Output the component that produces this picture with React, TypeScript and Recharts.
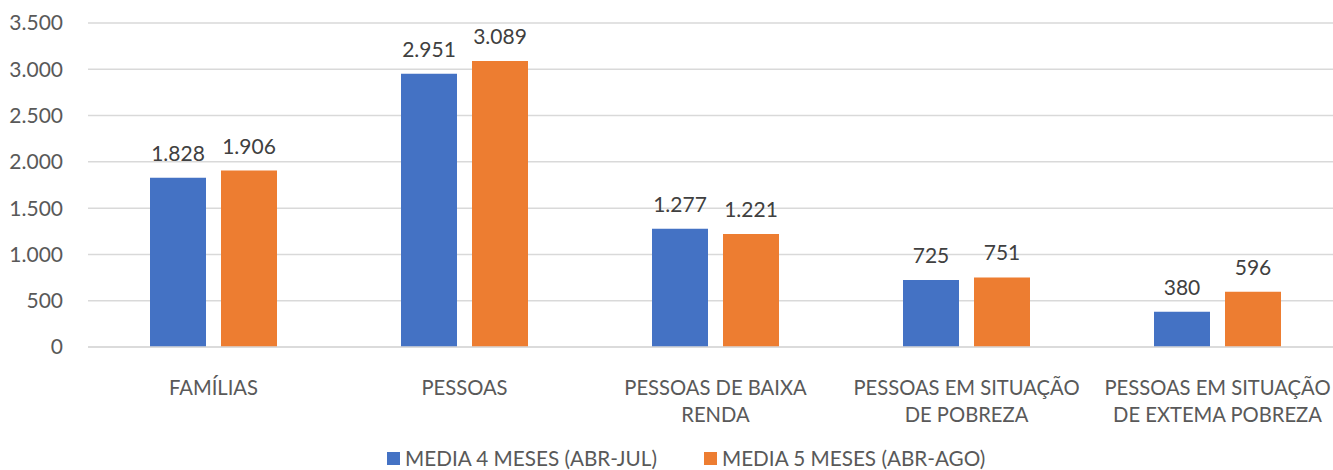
import React from "react";
import {
  BarChart,
  Bar,
  XAxis,
  YAxis,
  CartesianGrid,
  Legend,
  LabelList,
} from "recharts";

const categorias = [
  "FAMÍLIAS",
  "PESSOAS",
  "PESSOAS DE BAIXA|RENDA",
  "PESSOAS EM SITUAÇÃO|DE POBREZA",
  "PESSOAS EM SITUAÇÃO|DE EXTEMA POBREZA",
];
const media4Meses = [1828, 2951, 1277, 725, 380];
const media5Meses = [1906, 3089, 1221, 751, 596];
const ticksY = [0, 500, 1000, 1500, 2000, 2500, 3000, 3500];

const SERIES = [
  { key: "m4", nome: "MEDIA 4 MESES (ABR-JUL)", cor: "#4472c4" },
  { key: "m5", nome: "MEDIA 5 MESES (ABR-AGO)", cor: "#ed7d31" },
];

const FONTE = "Lato, 'Noto Sans', sans-serif";

const dados = categorias.map((c, i) => ({
  categoria: c,
  m4: media4Meses[i],
  m5: media5Meses[i],
}));

// milhar com ponto (pt-BR)
const fmt = (v: number) => String(v).replace(/\B(?=(\d{3})+(?!\d))/g, ".");

function TickCategoria({ x, y, payload }: any) {
  const linhas = String(payload.value).split("|");
  return (
    <text
      x={x}
      y={y}
      textAnchor="middle"
      fill="#595959"
      fontSize={20.2}
      fontFamily={FONTE}
    >
      {linhas.map((l, i) => (
        <tspan key={i} x={x} dy={i === 0 ? 40 : 27}>
          {l}
        </tspan>
      ))}
    </text>
  );
}

function Legenda() {
  return (
    <div
      style={{
        height: 48,
        display: "flex",
        alignItems: "flex-start",
        paddingLeft: 387,
        paddingTop: 26,
        boxSizing: "border-box",
        fontFamily: FONTE,
        fontSize: 20.7,
        color: "#595959",
      }}
    >
      {SERIES.map((s, i) => (
        <div
          key={s.key}
          style={{
            display: "flex",
            alignItems: "center",
            height: 20,
            marginRight: i === 0 ? 47 : 0,
          }}
        >
          <span
            style={{
              width: 13,
              height: 13,
              background: s.cor,
              display: "inline-block",
              marginRight: 5,
            }}
          />
          <span style={{ lineHeight: "20px" }}>{s.nome}</span>
        </div>
      ))}
    </div>
  );
}

export default function App() {
  return (
    <div
      style={{
        position: "absolute",
        left: 0,
        top: 0,
        width: 1333,
        height: 470,
        overflow: "hidden",
        background: "#fff",
      }}
    >
      <BarChart
        width={1343}
        height={470}
        data={dados}
        margin={{ top: 23, right: 0, bottom: 0, left: 0 }}
        barGap={15}
        barSize={56}
      >
        <CartesianGrid vertical={false} stroke="#d9d9d9" strokeWidth={1.5} />
        <XAxis
          dataKey="categoria"
          axisLine={{ stroke: "#d9d9d9", strokeWidth: 1.5 }}
          tickLine={false}
          tick={<TickCategoria />}
          interval={0}
          height={75}
        />
        <YAxis
          domain={[0, 3500]}
          ticks={ticksY}
          tickFormatter={fmt}
          axisLine={false}
          tickLine={false}
          tickSize={0}
          tickMargin={25}
          width={88}
          tick={{ fill: "#595959", fontSize: 21, fontFamily: FONTE }}
        />
        <Legend verticalAlign="bottom" content={<Legenda />} />
        {SERIES.map((s) => (
          <Bar
            key={s.key}
            dataKey={s.key}
            name={s.nome}
            fill={s.cor}
            isAnimationActive={false}
          >
            <LabelList
              dataKey={s.key}
              position="top"
              offset={17}
              formatter={(v: any) => fmt(Number(v))}
              style={{ fill: "#404040", fontSize: 21, fontFamily: FONTE }}
            />
          </Bar>
        ))}
      </BarChart>
    </div>
  );
}
